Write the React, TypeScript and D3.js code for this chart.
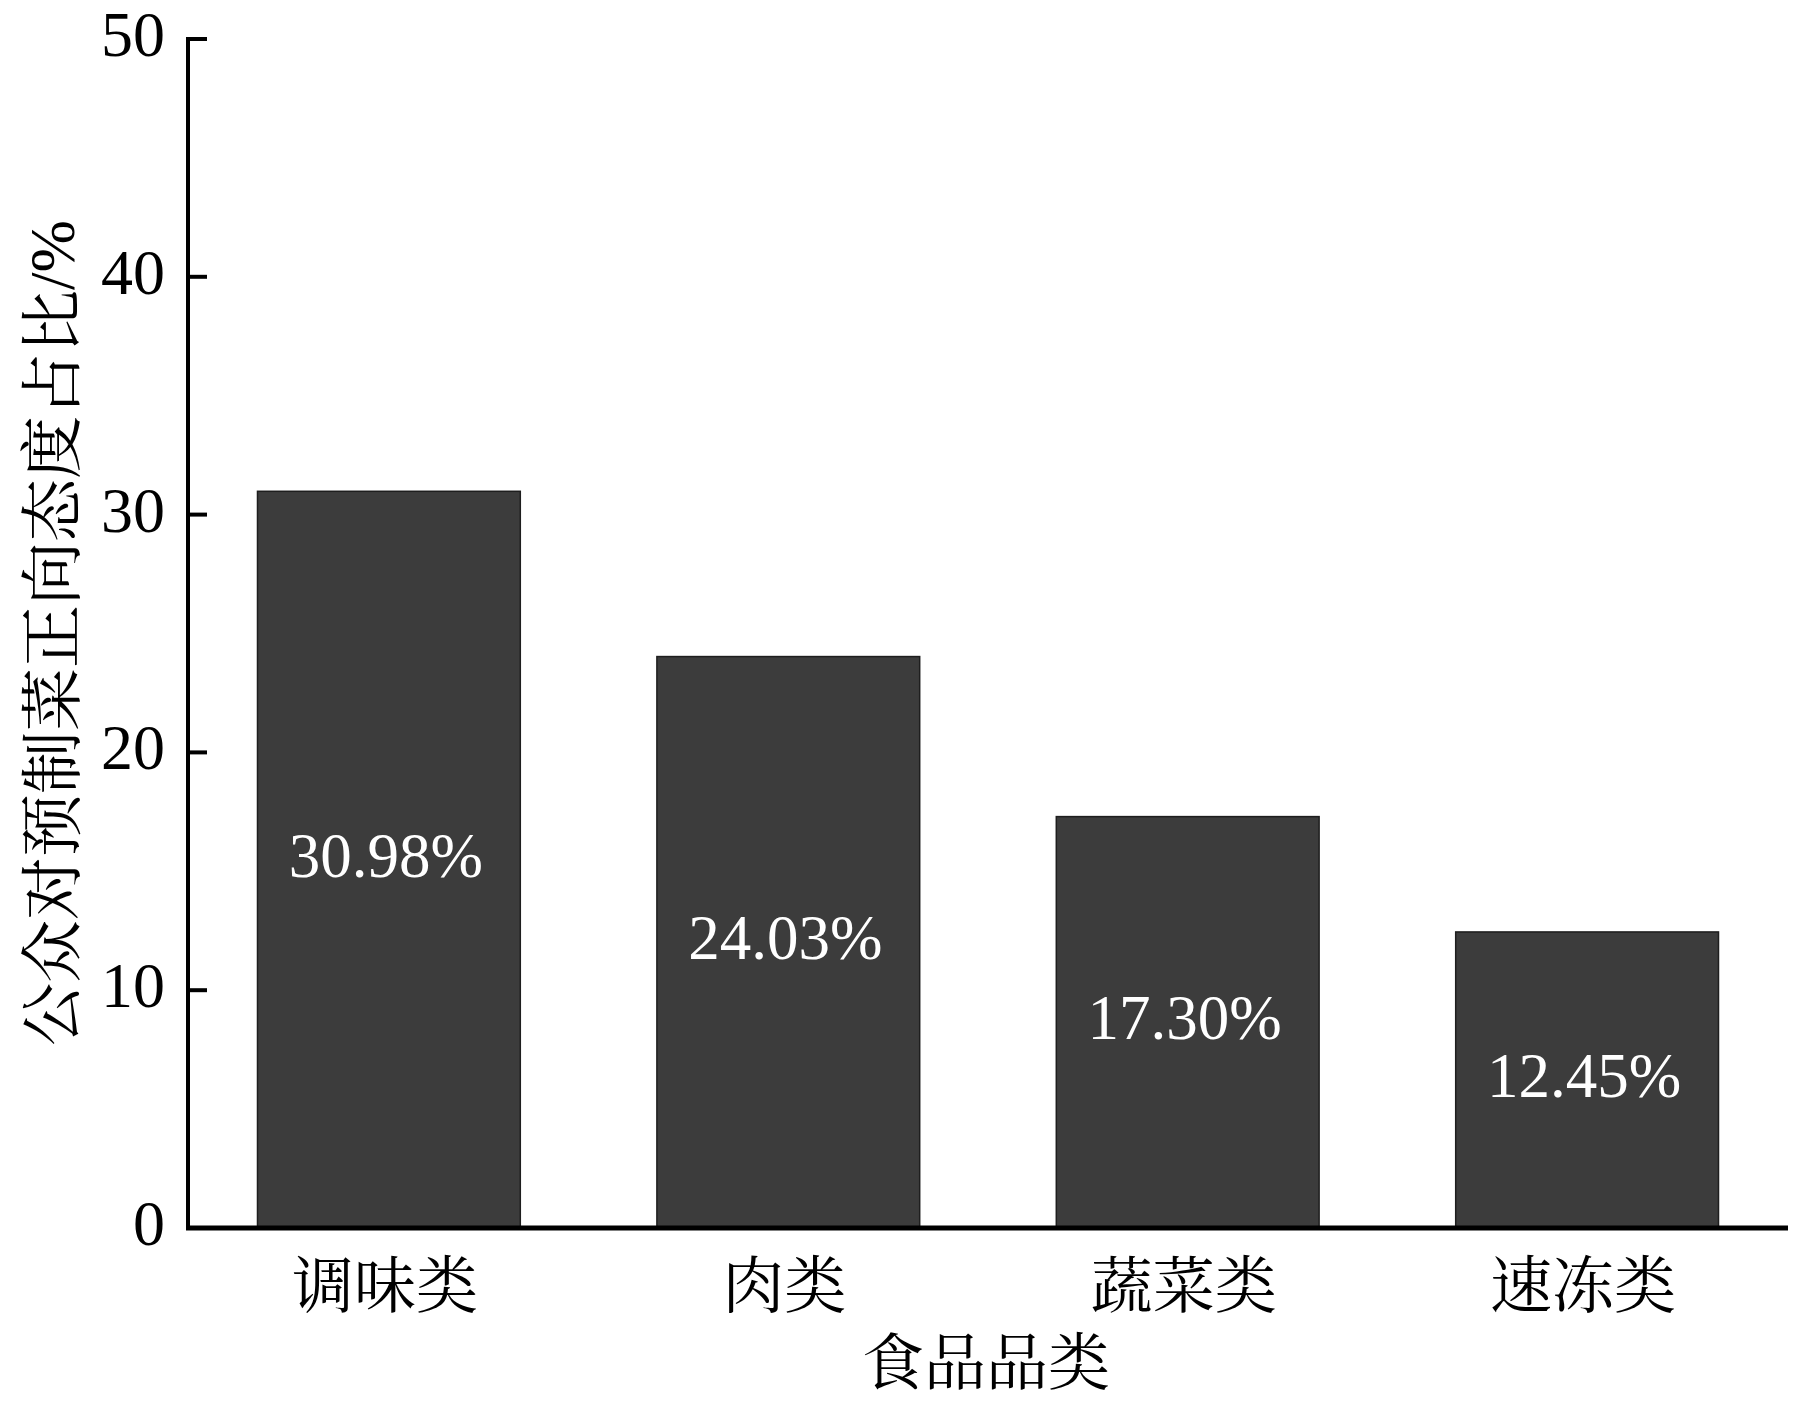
import * as d3 from "d3";
import React, { useRef, useEffect } from "react";

const categories = ["调味类", "肉类", "蔬菜类", "速冻类"];
const values = [30.98, 24.03, 17.3, 12.45];
const valueLabels = ["30.98%", "24.03%", "17.30%", "12.45%"];
const yTicks = [0, 10, 20, 30, 40, 50];
const yTitle = "公众对预制菜正向态度占比/%";
const xTitle = "食品品类";

const W = 1802;
const H = 1404;
const margin = { top: 39, right: 14, bottom: 176, left: 188 };
const font = "'Liberation Serif', 'Times New Roman', 'Noto Serif CJK SC', 'Noto Sans CJK SC', serif";

const drawChart = (node: any) => {
  const svg = d3.select(node);
  svg.selectAll("*").remove();
  svg.attr("width", W).attr("height", H).style("background", "#fff");

  const x = d3
    .scaleBand()
    .domain(categories)
    .range([margin.left, W - margin.right])
    .paddingInner(0.342)
    .paddingOuter(0.174);
  const y = d3
    .scaleLinear()
    .domain([0, 50])
    .range([H - margin.bottom, margin.top]);

  const g = svg.append("g").style("font-family", font);

  // bars
  g.selectAll("rect.bar")
    .data(values)
    .enter()
    .append("rect")
    .attr("class", "bar")
    .attr("x", (d: number, i: number) => x(categories[i]) as number)
    .attr("y", (d: number) => y(d))
    .attr("width", x.bandwidth())
    .attr("height", (d: number) => y(0) - y(d))
    .attr("fill", "#3c3c3c")
    .attr("stroke", "#1e1e1e")
    .attr("stroke-width", 1.5);

  // value labels at middle of bar
  g.selectAll("text.val")
    .data(values)
    .enter()
    .append("text")
    .attr("class", "val")
    .attr("x", (d: number, i: number) => (x(categories[i]) as number) + x.bandwidth() / 2 - 3)
    .attr("y", (d: number) => (y(d) + y(0)) / 2 + 17)
    .attr("text-anchor", "middle")
    .attr("fill", "#fff")
    .style("font-size", "63px")
    .text((d: number, i: number) => valueLabels[i]);

  // y axis
  g.append("line")
    .attr("x1", margin.left)
    .attr("x2", margin.left)
    .attr("y1", y(50) - 2)
    .attr("y2", y(0))
    .attr("stroke", "#000")
    .attr("stroke-width", 4);
  g.selectAll("line.tick")
    .data(yTicks.slice(1))
    .enter()
    .append("line")
    .attr("class", "tick")
    .attr("x1", margin.left)
    .attr("x2", margin.left + 19)
    .attr("y1", (d: number) => y(d))
    .attr("y2", (d: number) => y(d))
    .attr("stroke", "#000")
    .attr("stroke-width", 4);
  g.selectAll("text.ytick")
    .data(yTicks)
    .enter()
    .append("text")
    .attr("class", "ytick")
    .attr("x", 165)
    .attr("y", (d: number) => y(d) + 17)
    .attr("text-anchor", "end")
    .style("font-size", "64px")
    .text((d: number) => String(d));

  // x axis
  g.append("line")
    .attr("x1", margin.left - 2)
    .attr("x2", W - margin.right)
    .attr("y1", y(0))
    .attr("y2", y(0))
    .attr("stroke", "#000")
    .attr("stroke-width", 5);
  g.selectAll("text.xtick")
    .data(categories)
    .enter()
    .append("text")
    .attr("class", "xtick")
    .attr("x", (d: string) => (x(d) as number) + x.bandwidth() / 2 - 4)
    .attr("y", 1308)
    .attr("text-anchor", "middle")
    .style("font-size", "62px")
    .text((d: string) => d);

  // titles
  g.append("text")
    .attr("x", 986)
    .attr("y", 1385)
    .attr("text-anchor", "middle")
    .style("font-size", "62px")
    .text(xTitle);
  g.append("text")
    .attr("transform", "translate(74,633) rotate(-90)")
    .attr("text-anchor", "middle")
    .style("font-size", "63px")
    .text(yTitle);
};

function App() {
  const ref = useRef<any>(null);
  useEffect(() => {
    drawChart(ref.current);
  }, []);
  return (
    <div style={{ position: "absolute", left: 0, top: 0 }}>
      <svg ref={ref} style={{ display: "block" }}></svg>
    </div>
  );
}

export default App;
